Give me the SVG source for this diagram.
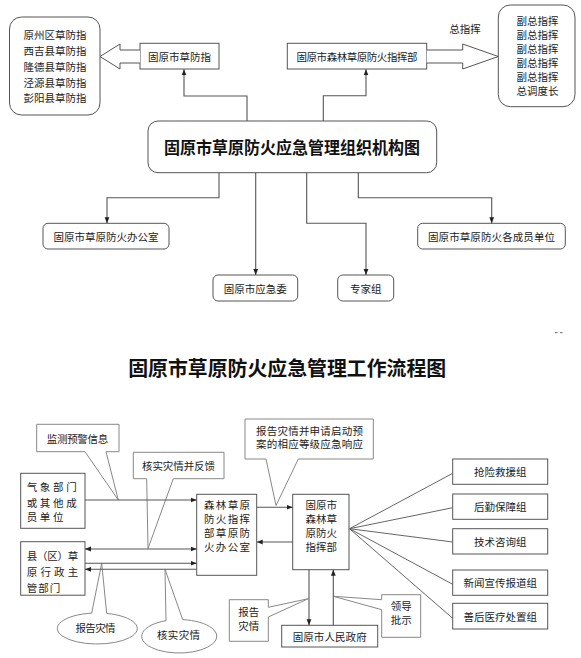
<svg xmlns="http://www.w3.org/2000/svg" width="581" height="658" viewBox="0 0 581 658">
<defs>
<style>
.bx{fill:#fff;stroke:#555;stroke-width:1}
.co{fill:#fff;stroke:#888;stroke-width:1}
.hl{fill:#fff;stroke:#555;stroke-width:1}
.ln{fill:none;stroke:#555;stroke-width:1.1}
.fl{fill:none;stroke:#666;stroke-width:1}
.t{font-family:"Noto Sans CJK SC","Noto Sans",sans-serif;font-size:10.5px;fill:#222;text-anchor:middle;dominant-baseline:central}
.ts{font-family:"Noto Sans CJK SC","Noto Sans",sans-serif;font-size:10.5px;fill:#222;text-anchor:start;dominant-baseline:central}
.h1{font-family:"Noto Sans CJK SC","Noto Sans",sans-serif;font-weight:bold;fill:#111;text-anchor:middle;dominant-baseline:central}
</style>
<marker id="ah" viewBox="0 0 10 10" refX="10" refY="5" markerWidth="6" markerHeight="6" markerUnits="userSpaceOnUse" orient="auto-start-reverse">
<path d="M0,1 L10,5 L0,9 z" fill="#222"/>
</marker>
</defs>
<rect width="581" height="658" fill="#fff"/>

<!-- ===== Top: organisation chart ===== -->
<g id="county-commands">
<rect class="bx" x="9.5" y="17" width="90.5" height="98" rx="12"/>
<text class="t" x="55" y="34.5">原州区草防指</text>
<text class="t" x="55" y="50.5">西吉县草防指</text>
<text class="t" x="55" y="66.3">隆德县草防指</text>
<text class="t" x="55" y="82">泾源县草防指</text>
<text class="t" x="55" y="97.7">彭阳县草防指</text>
</g>

<g id="city-grass-command">
<rect class="bx" x="140" y="43.3" width="79" height="25.7"/>
<text class="t" x="179.5" y="56.3">固原市草防指</text>
</g>

<g id="forest-command">
<rect class="bx" x="287.3" y="43.3" width="139.4" height="25.7"/>
<text class="t" x="357" y="56.3" textLength="121" lengthAdjust="spacing">固原市森林草原防火指挥部</text>
</g>

<g id="commanders">
<rect class="bx" x="498.3" y="5" width="76.7" height="101.7" rx="12"/>
<text class="t" x="537.5" y="20.7">副总指挥</text>
<text class="t" x="537.5" y="34.5">副总指挥</text>
<text class="t" x="537.5" y="48.4">副总指挥</text>
<text class="t" x="537.5" y="62.3">副总指挥</text>
<text class="t" x="537.5" y="76.1">副总指挥</text>
<text class="t" x="537.5" y="90">总调度长</text>
</g>

<g id="title-org">
<rect class="bx" x="148" y="121" width="288.7" height="51.7" rx="10"/>
<text class="h1" x="292" y="147" font-size="16.5" textLength="256" lengthAdjust="spacingAndGlyphs">固原市草原防火应急管理组织机构图</text>
</g>

<g id="fire-office">
<rect class="bx" x="43" y="223.3" width="126" height="25.7" rx="5"/>
<text class="t" x="106" y="236.2">固原市草原防火办公室</text>
</g>

<g id="emergency-committee">
<rect class="bx" x="213" y="275" width="84.7" height="26" rx="5"/>
<text class="t" x="255.3" y="288">固原市应急委</text>
</g>

<g id="expert-group">
<rect class="bx" x="337.7" y="275" width="56" height="26" rx="5"/>
<text class="t" x="365.7" y="288">专家组</text>
</g>

<g id="member-units">
<rect class="bx" x="417.7" y="223.3" width="147.6" height="25.7" rx="5"/>
<text class="t" x="491.5" y="236.2" textLength="127" lengthAdjust="spacing">固原市草原防火各成员单位</text>
</g>

<g id="label-chief">
<text class="t" x="465" y="28.5">总指挥</text>
</g>

<g id="connectors-top">
<path class="hl" d="M140,50 H120 V44 L100,56.5 L120,69 V63 H140"/>
<path class="hl" d="M426.7,50 H462.7 V44 L498.3,56.5 L462.7,69 V63 H426.7"/>
<path class="ln" d="M247,121 V96 H184 V69.3" marker-end="url(#ah)"/>
<path class="ln" d="M323.3,121 V95.7 H366 V69.3" marker-end="url(#ah)"/>
<path class="ln" d="M219,172.7 V197.7 H107 V223.3" marker-end="url(#ah)"/>
<path class="ln" d="M255.7,172.7 V275" marker-end="url(#ah)"/>
<path class="ln" d="M306.7,172.7 V223.3 H366 V275" marker-end="url(#ah)"/>
<path class="ln" d="M358.3,172.7 V197.7 H491.7 V223.3" marker-end="url(#ah)"/>
</g>

<g id="stray-mark">
<path d="M555,332.7 H557.5 M560,332.7 H562.5" stroke="#666" stroke-width="1"/>
</g>

<!-- ===== Bottom: work flow chart ===== -->
<g id="title-flow">
<text class="h1" x="287.2" y="367" font-size="20" textLength="318" lengthAdjust="spacingAndGlyphs">固原市草原防火应急管理工作流程图</text>
</g>

<g id="callout-monitor">
<path class="co" d="M36.7,424.3 H119 V451.7 H106 L118.3,500 L85,451.7 H36.7 Z"/>
<text class="t" x="77.5" y="438" textLength="61.6" lengthAdjust="spacing">监测预警信息</text>
</g>

<g id="callout-verify-feedback">
<path class="co" d="M133.3,452.3 H224 V478.7 H173.3 L148,548.5 L146.7,478.7 H133.3 Z"/>
<text class="t" x="178.5" y="465.5" textLength="73" lengthAdjust="spacing">核实灾情并反馈</text>
</g>

<g id="callout-report-request">
<path class="co" d="M245,419 H373.3 V459 H298.3 L276,505.5 L266,459 H245 Z"/>
<text class="t" x="309.5" y="430" textLength="107" lengthAdjust="spacing">报告灾情并申请启动预</text>
<text class="t" x="309.5" y="443.8" textLength="107" lengthAdjust="spacing">案的相应等级应急响应</text>
</g>

<g id="weather-dept">
<rect class="bx" x="20.7" y="473.3" width="64.3" height="55"/>
<text class="ts" x="26.7" y="486.7" textLength="50" lengthAdjust="spacing">气象部门</text>
<text class="ts" x="26.7" y="502" textLength="50" lengthAdjust="spacing">或其他成</text>
<text class="ts" x="26.7" y="516.7" textLength="36.7" lengthAdjust="spacing">员单位</text>
</g>

<g id="county-dept">
<rect class="bx" x="20.7" y="541.7" width="64.3" height="53.5"/>
<text class="ts" x="26.7" y="555" textLength="51.6" lengthAdjust="spacing">县（区）草</text>
<text class="ts" x="26.7" y="571.3" textLength="51.6" lengthAdjust="spacing">原行政主</text>
<text class="ts" x="26.7" y="587.5" textLength="33.5" lengthAdjust="spacing">管部门</text>
</g>

<g id="command-office">
<rect class="bx" x="196.7" y="494.3" width="60" height="81"/>
<text class="t" x="227" y="504" textLength="46" lengthAdjust="spacing">森林草原</text>
<text class="t" x="227" y="518" textLength="46" lengthAdjust="spacing">防火指挥</text>
<text class="t" x="227" y="532" textLength="46" lengthAdjust="spacing">部草原防</text>
<text class="t" x="227" y="546" textLength="46" lengthAdjust="spacing">火办公室</text>
</g>

<g id="city-command">
<rect class="bx" x="292.7" y="494.3" width="56.3" height="75.4"/>
<text class="t" x="321.3" y="504">固原市</text>
<text class="t" x="321.3" y="518">森林草</text>
<text class="t" x="321.3" y="532">原防火</text>
<text class="t" x="321.3" y="546">指挥部</text>
</g>

<g id="city-government">
<rect class="bx" x="281.7" y="625.3" width="96" height="21.7"/>
<text class="t" x="329.7" y="636.2" textLength="74" lengthAdjust="spacing">固原市人民政府</text>
</g>

<g id="rescue-group">
<rect class="bx" x="452.7" y="459" width="95" height="25.3"/>
<text class="t" x="500.2" y="471.7">抢险救援组</text>
</g>
<g id="logistics-group">
<rect class="bx" x="452.7" y="494" width="95" height="25.3"/>
<text class="t" x="500.2" y="506.7">后勤保障组</text>
</g>
<g id="tech-group">
<rect class="bx" x="452.7" y="528.7" width="95" height="25.3"/>
<text class="t" x="500.2" y="541.4">技术咨询组</text>
</g>
<g id="news-group">
<rect class="bx" x="452.7" y="570" width="95" height="25.3"/>
<text class="t" x="500.2" y="582.7">新闻宣传报道组</text>
</g>
<g id="aftermath-group">
<rect class="bx" x="452.7" y="603.3" width="95" height="25.7"/>
<text class="t" x="500.2" y="616.2">善后医疗处置组</text>
</g>

<g id="callout-report-ellipse">
<path class="co" d="M91.7,613.15 L101.7,563.3 L106.7,613.43 A40,15.5 0 1 1 91.7,613.15 Z"/>
<text class="t" x="95.5" y="627.5" textLength="40" lengthAdjust="spacing">报告灾情</text>
</g>

<g id="callout-verify-ellipse">
<path class="co" d="M166,620.67 L165,569.3 L182.7,619.67 A37.5,16.7 0 1 1 166,620.67 Z"/>
<text class="t" x="178.5" y="634.5" textLength="43" lengthAdjust="spacing">核实灾情</text>
</g>

<g id="callout-report-box">
<path class="co" d="M229.3,599.7 H268.3 V607.3 L308.3,598.7 L268.3,617 V641.3 H229.3 Z"/>
<text class="t" x="248.8" y="611">报告</text>
<text class="t" x="248.8" y="625">灾情</text>
</g>

<g id="callout-leader">
<path class="co" d="M381.7,594.7 H420.7 V637.3 H381.7 V609.7 L333.3,596.3 L381.7,599.7 Z"/>
<text class="t" x="401.2" y="605">领导</text>
<text class="t" x="401.2" y="619">批示</text>
</g>

<g id="connectors-bottom">
<path class="ln" d="M85,500 H196.7" marker-end="url(#ah)"/>
<path class="ln" d="M85,549 H196.7" marker-start="url(#ah)" marker-end="url(#ah)"/>
<path class="ln" d="M85,563.3 H196.7" marker-end="url(#ah)"/>
<path class="ln" d="M196.7,569.3 H85" marker-end="url(#ah)"/>
<path class="ln" d="M256.7,507.3 H292.7" marker-end="url(#ah)"/>
<path class="ln" d="M292.7,542 H256.7" marker-end="url(#ah)"/>
<path class="ln" d="M309,569.7 V625.3" marker-end="url(#ah)"/>
<path class="ln" d="M333.3,625.3 V569.7" marker-end="url(#ah)"/>
<path class="fl" d="M349.5,528.7 L452.7,473.3 M349.5,528.7 L452.7,507.7 M349.5,528.7 L452.7,542 M349.5,528.7 L452.7,584.3 M349.5,528.7 L452.7,618.3"/>
</g>
</svg>
